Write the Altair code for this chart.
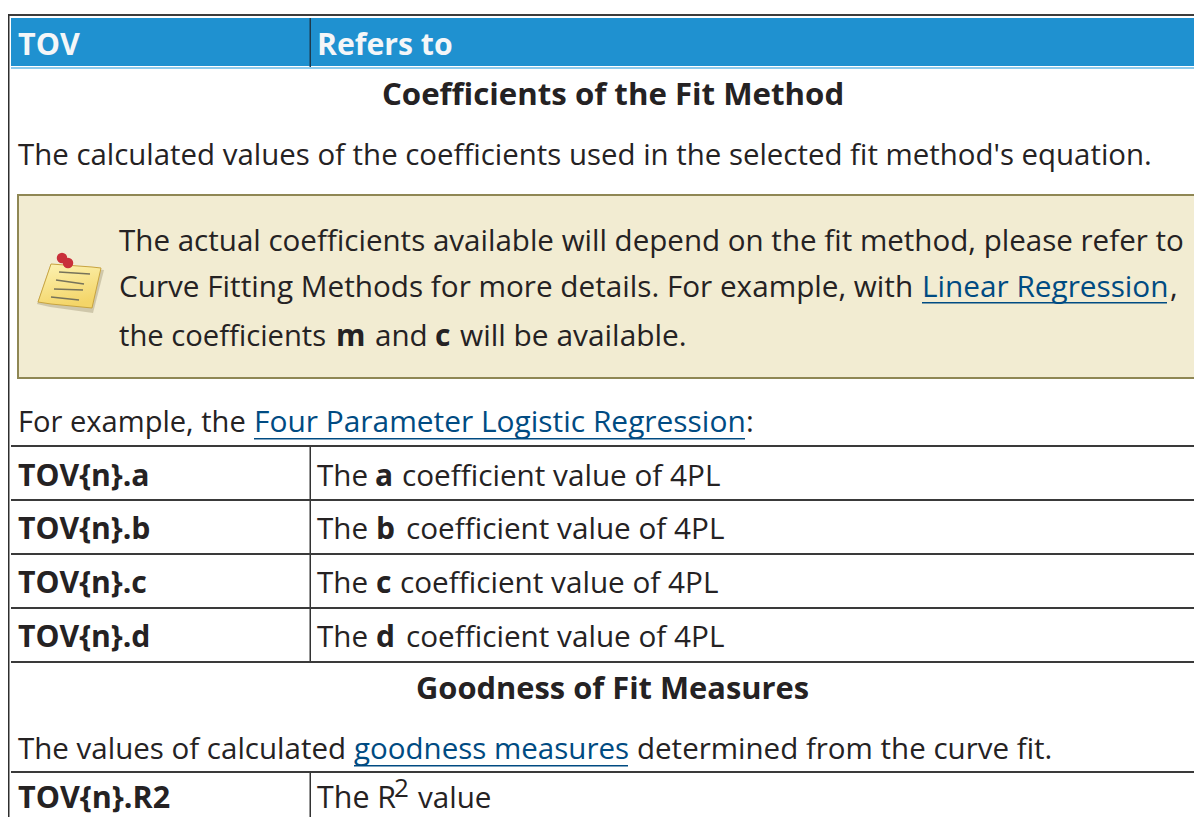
import altair as alt
import pandas as pd

# ---- table text ----
INK = "#252223"
LINK = "#004B82"
WHITE = "#F4F6F8"

regular_text = ["The calculated values of the coefficients used in the selected fit method's equation.",
    "The actual coefficients available will depend on the fit method, please refer to",
    "Curve Fitting Methods for more details. For example, with", "Linear Regression", ",",
    "the coefficients", "and", "will be available.",
    "For example, the", "Four Parameter Logistic Regression", ":",
    "The", "coefficient value of 4PL", "The", "coefficient value of 4PL",
    "The", "coefficient value of 4PL", "The", "coefficient value of 4PL",
    "The values of calculated", "goodness measures", "determined from the curve fit.",
    "The R", "2", "value"]
regular_x = [18, 119, 119, 922, 1170, 119, 375, 460, 18, 254, 746,
             317, 402, 317, 406, 317, 400, 317, 406,
             18, 354, 637, 317, 394, 418]
regular_y = [165, 251, 297, 297, 297, 346, 346, 346, 432, 432, 432,
             486, 486, 539, 539, 593, 593, 647, 647,
             759, 759, 759, 808, 797, 808]
regular_c = [INK, INK, INK, LINK, INK, INK, INK, INK, INK, LINK, INK,
             INK, INK, INK, INK, INK, INK, INK, INK,
             INK, LINK, INK, INK, INK, INK]
regular_s = [29.42, 29.55, 29.7, 29.75, 29.6, 29.2, 29.6, 29.9, 29.1, 29.9, 29.6,
             29.6, 29.7, 29.6, 29.7, 29.6, 29.7, 29.6, 29.7,
             29.5, 29.5, 29.5, 30.4, 26, 29.6]

bold_text = ["TOV", "Refers to", "Coefficients of the Fit Method", "m", "c",
             "TOV{n}.a", "a", "TOV{n}.b", "b", "TOV{n}.c", "c", "TOV{n}.d", "d",
             "Goodness of Fit Measures", "TOV{n}.R2"]
bold_x = [18, 317, 382, 336, 435, 18, 375, 18, 376, 18, 376, 18, 376, 416, 18]
bold_y = [55, 55, 105, 346, 346, 486, 486, 539, 539, 593, 593, 647, 647, 699, 808]
bold_c = [WHITE, WHITE] + [INK] * 13
bold_s = [30.5, 30.2, 31.2, 30, 30, 30.2, 30, 30.2, 30, 30.2, 30, 30.2, 30, 30.85, 30.5]

# ---- table geometry (page pixels) ----
box_x = [8, 8, 11, 11, 309.5, 17, 19, 309.5, 309.5]
box_x2 = [1194, 9.5, 1194, 1194, 311, 1194, 1194, 311, 311]
box_y = [14, 14, 18, 67, 18, 194, 196, 446, 772]
box_y2 = [16, 817, 66, 69, 67, 379, 377, 661, 817]
box_c = ["#3C3C3C", "#2E2E2E", "#1F91D0", "#8CCBED", "#1E3A4C", "#8F8754", "#F2ECD2", "#333333", "#333333"]

rule_y = [445, 499, 553, 607, 661, 771]
under_x = [922, 254, 354]
under_x2 = [1167, 745, 628]
under_y = [302, 438, 765]

# ---- note icon ----
paper_x = [38, 51, 92, 101]
paper_top = [302, 264, 267, 268]
paper_bot = [302, 304, 308, 268]
shadow_x = [37, 50, 93, 104]
shadow_top = [304, 266, 269, 270]
shadow_bot = [304, 307, 313, 270]
line_x = [59, 56, 54, 51]
line_x2 = [90, 84, 83, 79]
line_y = [272, 280, 289, 297]
line_y2 = [274, 284, 290, 300]
pin_x = [62, 68]
pin_y = [258, 263]

X = alt.Scale(domain=[8, 1194], nice=False, zero=False)
Y = alt.Scale(domain=[817, 8], nice=False, zero=False)
x = alt.X("x:Q", scale=X, axis=None)
y = alt.Y("y:Q", scale=Y, axis=None)

boxes = alt.Chart(pd.DataFrame(dict(x=box_x, x2=box_x2, y=box_y, y2=box_y2, c=box_c))).mark_rect().encode(
    x=x, x2="x2:Q", y=y, y2="y2:Q", color=alt.Color("c:N", scale=None))

rules_df = pd.DataFrame(dict(x=[11] * 6, x2=[1194] * 6, y=rule_y, y2=[v + 2 for v in rule_y]))
rules = alt.Chart(rules_df).mark_rect(color="#3A3A3A").encode(x=x, x2="x2:Q", y=y, y2="y2:Q")

under_df = pd.DataFrame(dict(x=under_x, x2=under_x2, y=under_y, y2=[v + 1.6 for v in under_y]))
unders = alt.Chart(under_df).mark_rect(color=LINK).encode(x=x, x2="x2:Q", y=y, y2="y2:Q")

def txt(t, xs, ys, cs, ss, weight):
    df = pd.DataFrame(dict(t=t, x=xs, y=ys, c=cs, s=ss))
    return alt.Chart(df).mark_text(align="left", baseline="alphabetic", font="Open Sans",
                                   fontWeight=weight).encode(
        x=x, y=y, text="t:N", color=alt.Color("c:N", scale=None), size=alt.Size("s:Q", scale=None))

shadow = alt.Chart(pd.DataFrame(dict(x=shadow_x, y=shadow_top, y2=shadow_bot))).mark_area(
    color="#8F8560", opacity=0.35).encode(x=x, y=y, y2="y2:Q")
paper = alt.Chart(pd.DataFrame(dict(x=paper_x, y=paper_top, y2=paper_bot))).mark_area(
    color=alt.Gradient(gradient="linear", x1=0, y1=0, x2=0.3, y2=1,
                       stops=[alt.GradientStop(color="#FCF3B4", offset=0),
                              alt.GradientStop(color="#F4D568", offset=1)]),
    stroke="#C8A440", strokeWidth=1).encode(x=x, y=y, y2="y2:Q")
lines = alt.Chart(pd.DataFrame(dict(x=line_x, x2=line_x2, y=line_y, y2=line_y2))).mark_rule(
    color="#77735A", strokeWidth=1.4).encode(x=x, x2="x2:Q", y=y, y2="y2:Q")
pins = alt.Chart(pd.DataFrame(dict(x=pin_x, y=pin_y))).mark_circle(
    color="#C9303A", size=110, opacity=1).encode(x=x, y=y)

chart = alt.layer(
    boxes, rules, unders, shadow, paper, lines, pins,
    txt(regular_text, regular_x, regular_y, regular_c, regular_s, "normal"),
    txt(bold_text, bold_x, bold_y, bold_c, bold_s, "bold"),
).properties(width=1186, height=809, padding=0, background="white",
             autosize=alt.AutoSizeParams(type="none")
).configure_view(stroke=None)

chart.save("out.html", embed_options={"renderer": "svg", "actions": False})
